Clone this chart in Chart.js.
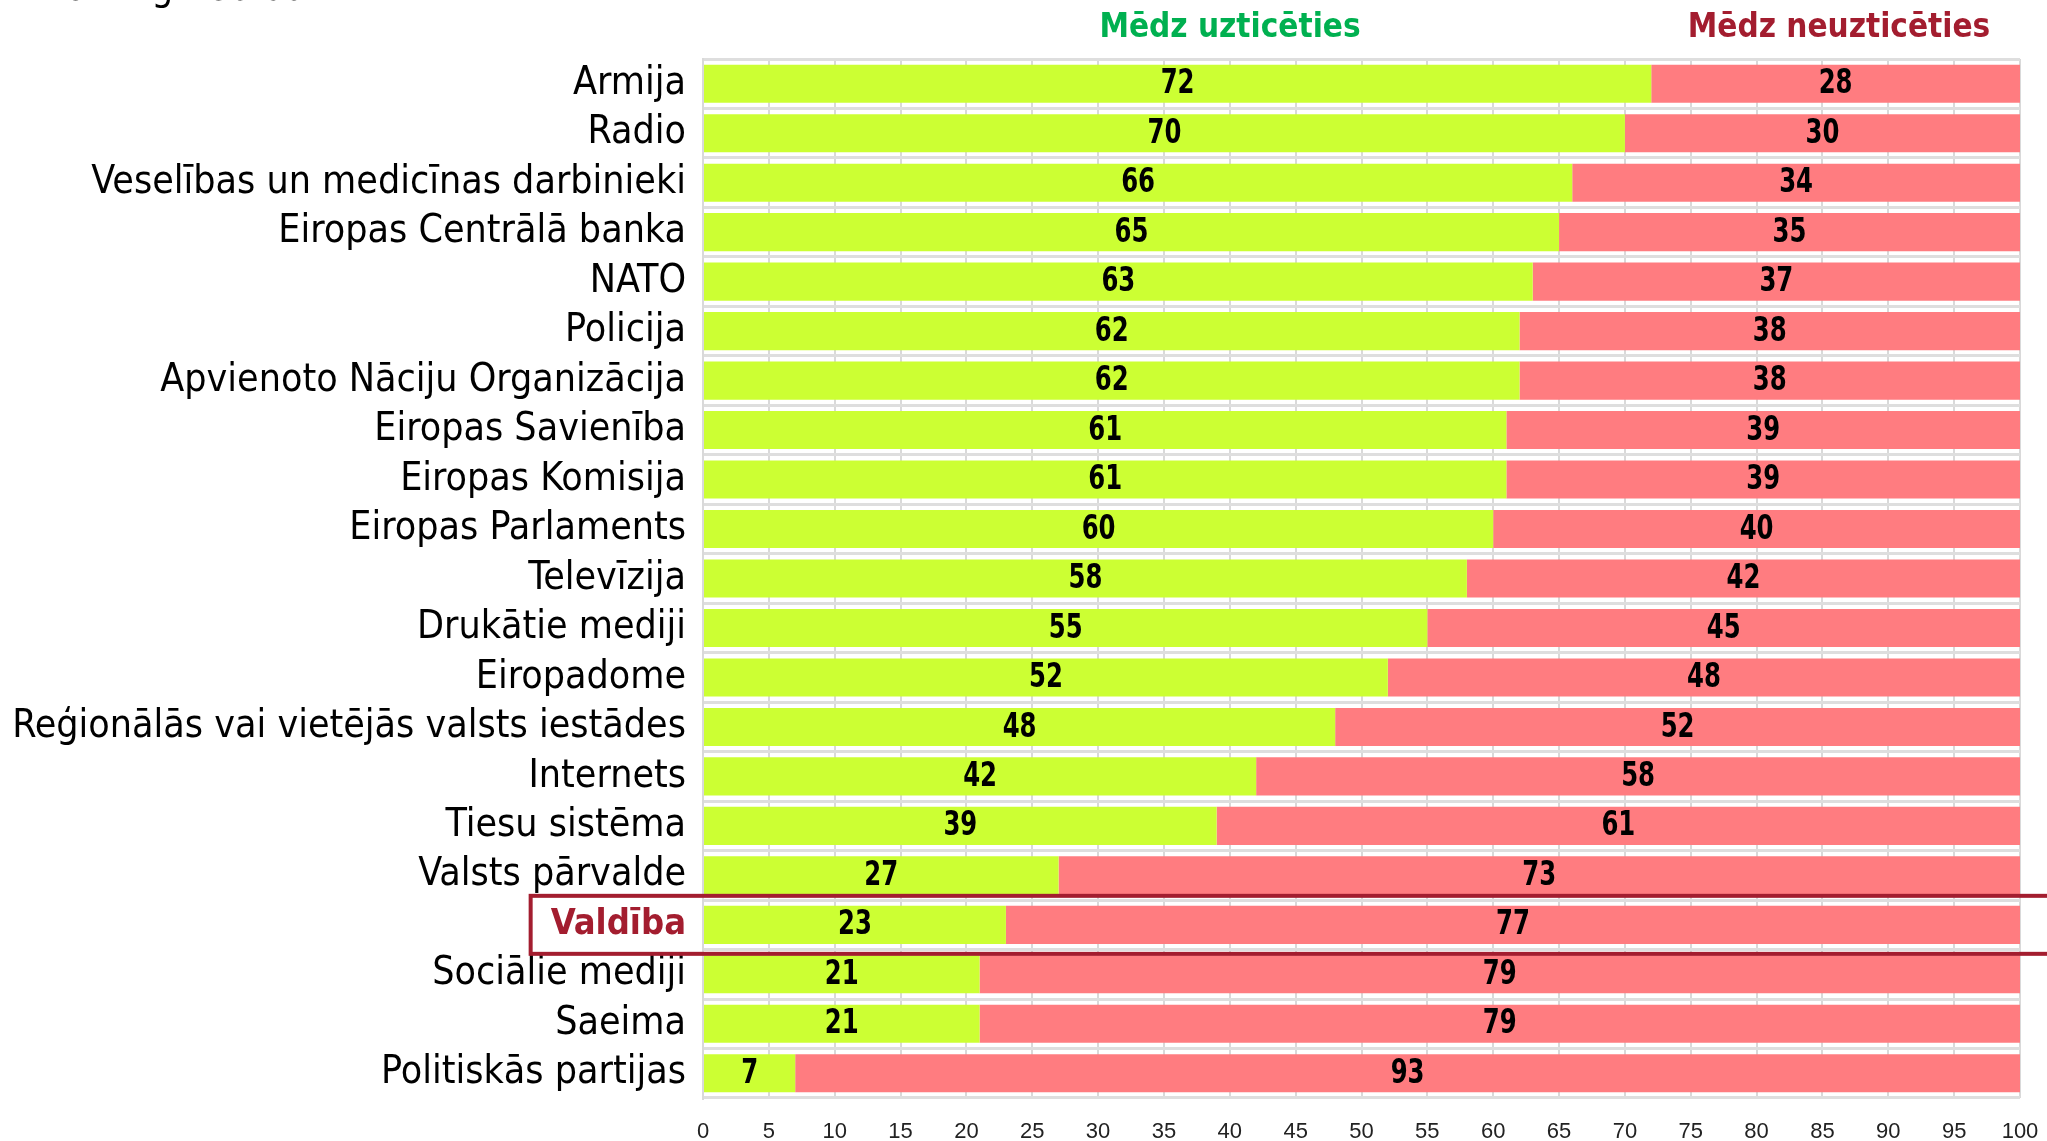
<!DOCTYPE html>
<html lang="lv">
<head>
<meta charset="utf-8"/>
<title>Uzticēšanās institūcijām</title>
<script src="https://cdn.jsdelivr.net/npm/chart.js"></script>
<style>
  body { margin: 0; background: #fff; }
  canvas { display: block; }
</style>
</head>
<body>
<canvas id="chart" width="2047" height="1141"></canvas>
<script>
// dati
const institucijas = ['Armija', 'Radio', 'Veselības un medicīnas darbinieki', 'Eiropas Centrālā banka', 'NATO',
  'Policija', 'Apvienoto Nāciju Organizācija', 'Eiropas Savienība', 'Eiropas Komisija', 'Eiropas Parlaments',
  'Televīzija', 'Drukātie mediji', 'Eiropadome', 'Reģionālās vai vietējās valsts iestādes', 'Internets',
  'Tiesu sistēma', 'Valsts pārvalde', 'Valdība', 'Sociālie mediji', 'Saeima', 'Politiskās partijas'];
const uzticas = [72, 70, 66, 65, 63, 62, 62, 61, 61, 60, 58, 55, 52, 48, 42, 39, 27, 23, 21, 21, 7];
const neuzticas = [28, 30, 34, 35, 37, 38, 38, 39, 39, 40, 42, 45, 48, 52, 58, 61, 73, 77, 79, 79, 93];
const xTicks = [0, 5, 10, 15, 20, 25, 30, 35, 40, 45, 50, 55, 60, 65, 70, 75, 80, 85, 90, 95, 100];
const izcelts = 'Valdība';
const virsraksts = '2024. g. februārī';

const FONT = '"Liberation Sans Narrow", "DejaVu Sans Condensed", sans-serif';
const GREEN = '#ccff33';
const PINK = '#ff7c80';
const DARKRED = '#a31d2f';

// skaitļi joslās (nedaudz saspiesti, lai atgādinātu šauro fontu)
const barLabels = {
  id: 'barLabels',
  afterDatasetsDraw(chart) {
    const ctx = chart.ctx;
    ctx.save();
    ctx.font = 'bold 33px ' + FONT;
    ctx.fillStyle = '#000';
    ctx.textAlign = 'center';
    ctx.textBaseline = 'middle';
    chart.data.datasets.forEach((ds, i) => {
      chart.getDatasetMeta(i).data.forEach((bar, j) => {
        const p = bar.getProps(['x', 'y', 'base'], true);
        ctx.save();
        ctx.translate((p.x + p.base) / 2, p.y + 1);
        ctx.scale(0.82, 1);
        ctx.fillText(ds.data[j], 0, 0);
        ctx.restore();
      });
    });
    ctx.restore();
  }
};

// virsraksti un rāmis
const extras = {
  id: 'extras',
  afterDraw(chart) {
    const ctx = chart.ctx;
    const y = chart.scales.y;
    ctx.save();
    ctx.font = 'bold 33px ' + FONT;
    ctx.textAlign = 'center';
    ctx.textBaseline = 'alphabetic';
    ctx.fillStyle = '#00b050';
    ctx.fillText('Mēdz uzticēties', 1230, 37);
    ctx.fillStyle = DARKRED;
    ctx.fillText('Mēdz neuzticēties', 1839, 37);

    ctx.font = '38px ' + FONT;
    ctx.fillStyle = '#000';
    ctx.textAlign = 'right';
    ctx.fillText(virsraksts, 330, 0);

    // rāmis ap izcelto rindu
    const idx = institucijas.indexOf(izcelts);
    const cy = y.getPixelForValue(idx);
    ctx.font = 'bold 36px ' + FONT;
    const w = ctx.measureText(izcelts).width;
    const left = y.right - 17 - w - 20;
    ctx.strokeStyle = DARKRED;
    ctx.lineWidth = 4;
    ctx.strokeRect(left, cy - 29, 2100 - left, 58);
    ctx.restore();
  }
};

new Chart(document.getElementById('chart'), {
  type: 'bar',
  data: {
    labels: institucijas,
    datasets: [
      { label: 'Mēdz uzticēties', data: uzticas, backgroundColor: GREEN },
      { label: 'Mēdz neuzticēties', data: neuzticas, backgroundColor: PINK }
    ]
  },
  options: {
    indexAxis: 'y',
    responsive: false,
    animation: false,
    categoryPercentage: 0.77,
    barPercentage: 1,
    layout: { autoPadding: false, padding: { top: 59, right: 27, left: 0, bottom: 0 } },
    plugins: { legend: { display: false }, tooltip: { enabled: false } },
    scales: {
      x: {
        stacked: true,
        min: 0,
        max: 100,
        afterBuildTicks(scale) { scale.ticks = xTicks.map(v => ({ value: v })); },
        afterFit(scale) { scale.height = 43; scale.paddingLeft = 0; scale.paddingRight = 0; },
        grid: { color: '#d9d9d9', lineWidth: 2, drawTicks: false },
        border: { display: false },
        ticks: {
          padding: 21,
          color: '#222',
          maxRotation: 0,
          autoSkip: false,
          font: { family: '"Liberation Sans", sans-serif', size: 22 }
        }
      },
      y: {
        stacked: true,
        afterFit(scale) { scale.width = 703; scale.paddingTop = 0; scale.paddingBottom = 0; },
        grid: { color: '#dedede', lineWidth: 3, drawTicks: false, offset: true },
        border: { color: '#d9d9d9', width: 2 },
        ticks: {
          padding: 17,
          autoSkip: false,
          color: (c) => institucijas[c.index] === izcelts ? DARKRED : '#000',
          font: (c) => institucijas[c.index] === izcelts
            ? { family: FONT, size: 36, weight: 'bold' }
            : { family: FONT, size: 39 }
        }
      }
    }
  },
  plugins: [barLabels, extras]
});
</script>
</body>
</html>
